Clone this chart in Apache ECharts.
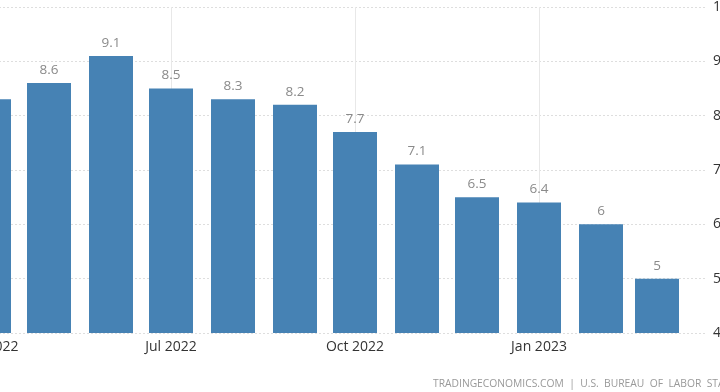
<!DOCTYPE html>
<html>
<head>
<meta charset="utf-8">
<script src="https://cdn.jsdelivr.net/npm/echarts@6/dist/echarts.min.js"></script>
<style>
html, body { margin: 0; padding: 0; width: 720px; height: 392px; overflow: hidden; background: #fff; position: relative; }
#chart { position: absolute; left: -150px; top: 0; width: 920px; height: 392px; }
</style>
</head>
<body>
<div id="chart"></div>
<script>
const months = ['2022-04-01', '2022-05-01', '2022-06-01', '2022-07-01', '2022-08-01', '2022-09-01',
                '2022-10-01', '2022-11-01', '2022-12-01', '2023-01-01', '2023-02-01', '2023-03-01'];
const inflation = [8.3, 8.6, 9.1, 8.5, 8.3, 8.2, 7.7, 7.1, 6.5, 6.4, 6.0, 5.0];
const quarterTicks = ['2022-04-01', '2022-07-01', '2022-10-01', '2023-01-01'];
const yTicks = [4, 5, 6, 7, 8, 9, 10];
const monthNames = ['Jan', 'Feb', 'Mar', 'Apr', 'May', 'Jun', 'Jul', 'Aug', 'Sep', 'Oct', 'Nov', 'Dec'];
const sourceText = 'TRADINGECONOMICS.COM  |  U.S.  BUREAU  OF  LABOR  STATISTICS';

function toTs(s) { const p = s.split('-'); return new Date(+p[0], +p[1] - 1, +p[2]).getTime(); }

const chart = echarts.init(document.getElementById('chart'), null, { renderer: 'canvas' });
const FONT = '"Open Sans", "Noto Sans", sans-serif';
chart.setOption({
  animation: false,
  backgroundColor: '#ffffff',
  grid: { left: 77, right: 65, top: 3, bottom: 59 },
  xAxis: {
    type: 'value',
    min: toTs('2022-03-01'),
    max: toTs('2023-03-25'),
    axisLine: { show: false },
    axisTick: { show: false, customValues: quarterTicks.map(toTs) },
    axisLabel: {
      customValues: quarterTicks.map(toTs),
      color: '#333',
      fontFamily: FONT,
      fontSize: 14,
      margin: 7,
      formatter: function (v) { const d = new Date(v); return monthNames[d.getMonth()] + ' ' + d.getFullYear(); }
    },
    splitLine: { show: true, lineStyle: { color: '#e8e8e8', width: 1 } }
  },
  yAxis: {
    type: 'value',
    position: 'right',
    min: yTicks[0],
    max: yTicks[yTicks.length - 1],
    interval: 1,
    axisLine: { show: false },
    axisTick: { show: false },
    axisLabel: { color: '#333', fontFamily: FONT, fontSize: 14, margin: 8 },
    splitLine: { lineStyle: { color: '#dedede', type: [2, 2], width: 1 } }
  },
  series: [{
    type: 'bar',
    barWidth: 44,
    data: months.map((m, i) => [toTs(m), inflation[i]]),
    itemStyle: { color: '#4682b4' },
    label: {
      show: true,
      position: 'top',
      distance: 6,
      color: '#8a8a8a',
      fontFamily: FONT,
      fontSize: 13.5,
      formatter: p => String(p.value[1])
    }
  }],
  graphic: [{
    type: 'text',
    left: 583,
    top: 379,
    style: { text: sourceText, fill: '#999', font: '10.3px ' + FONT }
  }]
});
</script>
</body>
</html>
